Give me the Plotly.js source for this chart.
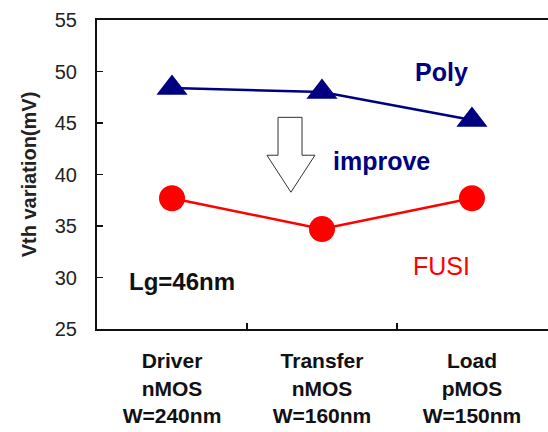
<!DOCTYPE html>
<html>
<head>
<meta charset="utf-8">
<script src="https://cdn.plot.ly/plotly-3.0.1.min.js"></script>
<style>html,body{margin:0;padding:0;overflow:hidden;background:#fff}</style>
</head>
<body>
<div id="chart" style="width:548px;height:432px"></div>
<script>
// Data
var categories = ["Driver<br>nMOS<br>W=240nm", "Transfer<br>nMOS<br>W=160nm", "Load<br>pMOS<br>W=150nm"];
var polyValues = [48.4, 48.0, 45.3];
var fusiValues = [37.7, 34.7, 37.7];
var yTickValues = [25, 30, 35, 40, 45, 50, 55];
var boundaryTicks = [0.5, 1.5];
// hollow "improve" arrow outline, in data coordinates (x index, y mV)
var arrowX = [0.707, 0.867, 0.867, 0.953, 0.793, 0.633, 0.707];
var arrowY = [45.55, 45.55, 41.87, 41.87, 38.28, 41.87, 41.87];

var font = "Arial, 'Liberation Sans', sans-serif";

var arrowPath = "M" + arrowX.map(function (x, i) { return x + "," + arrowY[i]; }).join(" L") + " Z";

var traces = [
  {
    x: categories, y: polyValues, type: "scatter", mode: "lines+markers", name: "Poly",
    line: {color: "#000080", width: 2.5},
    marker: {symbol: "triangle-up", size: 27, color: "#000080"},
    cliponaxis: false
  },
  {
    x: categories, y: fusiValues, type: "scatter", mode: "lines+markers", name: "FUSI",
    line: {color: "#ff0000", width: 2.5},
    marker: {symbol: "circle", size: 26, color: "#ff0000"},
    cliponaxis: false
  }
];

var layout = {
  width: 548, height: 432,
  margin: {l: 97, r: 0, t: 20, b: 103},
  paper_bgcolor: "#fff", plot_bgcolor: "#fff",
  showlegend: false,
  font: {family: font, color: "#000"},
  xaxis: {
    type: "category",
    range: [-0.5, 2.507],
    showline: true, mirror: true, linecolor: "#111", linewidth: 2,
    ticks: "", showgrid: false, zeroline: false,
    tickfont: {family: font, size: 21, color: "#111", weight: "bold"},
    ticklabelstandoff: 12
  },
  xaxis2: {
    type: "linear", overlaying: "x", anchor: "y", side: "bottom",
    range: [-0.5, 2.507],
    tickvals: boundaryTicks, ticks: "inside", ticklen: 6, tickwidth: 1.5, tickcolor: "#111",
    showticklabels: false, showgrid: false, zeroline: false, showline: false
  },
  yaxis: {
    range: [25, 55], tickvals: yTickValues,
    showline: true, mirror: false, linecolor: "#111", linewidth: 2,
    ticks: "inside", ticklen: 6, tickwidth: 1.5, tickcolor: "#111",
    showgrid: false, zeroline: false,
    tickfont: {family: font, size: 20, color: "#222"},
    ticklabelstandoff: 14,
    title: {text: "Vth variation(mV)", font: {family: font, size: 20, color: "#222", weight: "bold"}, standoff: 13}
  },
  shapes: [
    {type: "path", xref: "x2", yref: "y", path: arrowPath, line: {color: "#333", width: 1}, fillcolor: "#fff"}
  ],
  annotations: [
    {x: 1.797, y: 50.0, xref: "x2", yref: "y", text: "Poly", showarrow: false,
     font: {family: font, size: 25, color: "#000080", weight: "bold"}},
    {x: 1.4, y: 41.27, xref: "x2", yref: "y", text: "improve", showarrow: false,
     font: {family: font, size: 25, color: "#000080", weight: "bold"}},
    {x: 1.797, y: 31.12, xref: "x2", yref: "y", text: "FUSI", showarrow: false,
     font: {family: font, size: 25, color: "#ff0000"}},
    {x: 0.067, y: 29.64, xref: "x2", yref: "y", text: "Lg=46nm", showarrow: false,
     font: {family: font, size: 24, color: "#111", weight: "bold"}}
  ]
};

Plotly.newPlot("chart", traces, layout, {displayModeBar: false, staticPlot: true});
</script>
</body>
</html>
